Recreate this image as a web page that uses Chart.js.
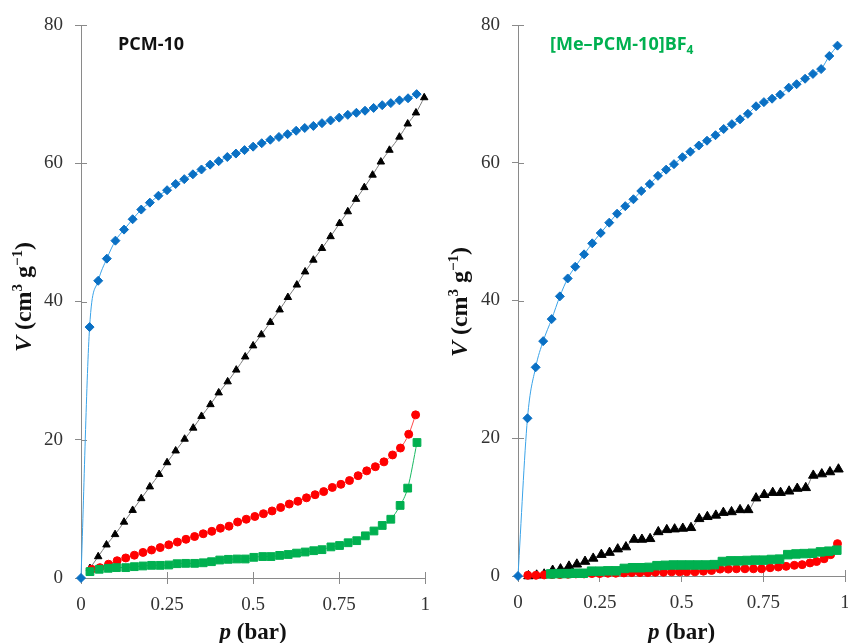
<!DOCTYPE html>
<html>
<head>
<meta charset="utf-8">
<script src="https://cdn.jsdelivr.net/npm/chart.js@4"></script>
<style>
html, body { margin: 0; padding: 0; background: #fff; overflow: hidden; width: 848px; height: 643px; }
#left { position: absolute; left: 0; top: 0; }
#right { position: absolute; left: 440px; top: 0; }
</style>
</head>
<body>
<canvas id="left" width="440" height="643"></canvas>
<canvas id="right" width="420" height="643"></canvas>
<script>
// ---- data: p in bar, V in cm3/g ----
var xTicks = [0, 0.25, 0.5, 0.75, 1];
var yTicks = [0, 20, 40, 60, 80];

// PCM-10 (left)
var pcmBlueP = [0,0.025,0.05,0.075,0.1,0.125,0.15,0.175,0.2,0.225,0.25,0.275,0.3,0.325,0.35,0.375,0.4,0.425,0.45,0.475,
                0.5,0.525,0.55,0.575,0.6,0.625,0.65,0.675,0.7,0.725,0.75,0.775,0.8,0.825,0.85,0.875,0.9,0.925,0.95,0.975];
var pcmBlueV = [0,36.3,43.0,46.2,48.8,50.4,51.9,53.3,54.3,55.3,56.1,57.0,57.7,58.4,59.1,59.8,60.3,60.9,61.4,61.9,
                62.4,62.9,63.4,63.8,64.2,64.7,65.1,65.4,65.8,66.2,66.6,67.0,67.3,67.6,68.0,68.4,68.7,69.1,69.4,70.0];
var pcmBlackP = [0.026,0.05,0.074,0.099,0.125,0.15,0.175,0.2,0.227,0.25,0.275,0.301,0.326,0.35,0.376,0.4,0.426,0.451,0.477,0.5,
                 0.524,0.55,0.577,0.601,0.627,0.651,0.675,0.7,0.725,0.751,0.775,0.799,0.823,0.847,0.871,0.896,0.925,0.949,0.973,0.997];
var pcmBlackV = [1.4,3.1,4.8,6.3,8.1,9.8,11.5,13.2,15.0,16.7,18.4,20.1,21.7,23.4,25.1,26.8,28.4,30.1,32.0,33.6,
                 35.2,37.0,38.8,40.6,42.4,44.3,46.0,47.7,49.4,51.3,53.0,54.8,56.5,58.3,60.2,61.9,63.8,65.7,67.3,69.5];
var pcmRedP = [0.031,0.055,0.08,0.105,0.13,0.155,0.18,0.205,0.23,0.255,0.28,0.305,0.33,0.355,0.38,0.405,0.43,0.455,0.48,0.505,
               0.53,0.555,0.58,0.605,0.63,0.655,0.68,0.705,0.73,0.755,0.78,0.805,0.83,0.855,0.88,0.905,0.928,0.952,0.972];
var pcmRedV = [1.26,1.5,2.0,2.5,2.9,3.3,3.7,4.05,4.4,4.8,5.2,5.6,6.0,6.4,6.75,7.2,7.5,8.1,8.5,8.9,
               9.3,9.7,10.2,10.7,11.1,11.6,12.05,12.5,13.1,13.55,14.1,14.8,15.5,16.1,16.8,17.8,18.8,20.8,23.6];
var pcmGreenP = [0.026,0.053,0.079,0.103,0.13,0.155,0.18,0.205,0.23,0.255,0.279,0.304,0.33,0.355,0.379,0.403,0.428,0.453,0.477,0.502,
                 0.528,0.552,0.577,0.602,0.626,0.651,0.676,0.70,0.726,0.751,0.776,0.801,0.826,0.851,0.875,0.90,0.927,0.949,0.976];
var pcmGreenV = [0.92,1.26,1.4,1.5,1.5,1.64,1.74,1.83,1.83,1.88,2.07,2.12,2.12,2.2,2.36,2.6,2.7,2.75,2.75,2.99,
                 3.1,3.1,3.27,3.4,3.6,3.76,3.95,4.1,4.5,4.7,5.1,5.4,6.1,6.8,7.6,8.5,10.5,13.0,19.6];

// [Me-PCM-10]BF4 (right)
var mePcmBlueP = [0,0.029,0.054,0.077,0.103,0.128,0.152,0.175,0.202,0.227,0.253,0.279,0.303,0.328,0.353,0.377,0.403,0.428,0.453,0.477,
                  0.503,0.527,0.553,0.578,0.604,0.629,0.654,0.679,0.703,0.728,0.752,0.777,0.802,0.828,0.852,0.878,0.902,0.927,0.952,0.977];
var mePcmBlueV = [0,22.9,30.3,34.1,37.3,40.6,43.2,44.9,46.7,48.3,49.8,51.3,52.6,53.7,54.7,55.9,56.9,58.1,59.0,59.8,
                  60.8,61.6,62.5,63.2,64.0,64.9,65.6,66.3,67.1,68.2,68.8,69.3,69.9,70.9,71.4,72.2,72.9,73.6,75.5,77.0];
var mePcmBlackP = [0.032,0.057,0.08,0.106,0.13,0.156,0.18,0.205,0.23,0.255,0.28,0.305,0.33,0.355,0.379,0.404,0.429,0.455,0.479,0.504,
                   0.529,0.554,0.579,0.605,0.628,0.653,0.679,0.704,0.728,0.753,0.779,0.803,0.829,0.854,0.88,0.903,0.929,0.954,0.98];
var mePcmBlackV = [0,0.1,0.25,0.8,1.0,1.4,1.7,2.1,2.55,3.1,3.4,3.9,4.2,5.3,5.3,5.4,6.4,6.7,6.8,6.9,
                   7.0,8.3,8.6,8.8,9.2,9.3,9.6,9.6,11.3,11.8,12.1,12.1,12.3,12.7,12.8,14.6,14.8,15.1,15.5];
var mePcmRedP = [0.03,0.055,0.08,0.104,0.128,0.153,0.177,0.202,0.226,0.25,0.275,0.299,0.324,0.348,0.373,0.397,0.42,0.445,0.47,0.494,
                 0.516,0.541,0.567,0.592,0.618,0.643,0.668,0.694,0.72,0.745,0.771,0.796,0.82,0.845,0.869,0.893,0.913,0.936,0.956,0.977];
var mePcmRedV = [0.1,0.1,0.15,0.2,0.2,0.25,0.3,0.3,0.35,0.35,0.4,0.4,0.45,0.5,0.5,0.5,0.55,0.55,0.6,0.6,
                 0.6,0.6,0.7,0.8,1.0,1.0,1.05,1.05,1.05,1.05,1.2,1.3,1.4,1.55,1.65,1.9,2.1,2.5,3.1,4.7];
var mePcmGreenP = [0.1,0.125,0.15,0.175,0.2,0.225,0.25,0.275,0.3,0.325,0.35,0.375,0.4,0.425,0.45,0.475,0.5,0.525,
                   0.55,0.575,0.6,0.625,0.65,0.675,0.7,0.725,0.75,0.775,0.8,0.825,0.85,0.875,0.9,0.925,0.95,0.975];
var mePcmGreenV = [0.3,0.35,0.35,0.4,0.4,0.7,0.7,0.75,0.75,1.1,1.2,1.2,1.25,1.5,1.55,1.6,1.6,1.6,
                   1.6,1.6,1.65,2.1,2.2,2.2,2.25,2.3,2.3,2.4,2.45,3.1,3.2,3.25,3.3,3.5,3.6,3.75];

// ---- styles ----
var axisGray = '#8a8a8a';
var serif = '"Liberation Serif", "DejaVu Serif", serif';
var tickFont = { family: serif, size: 19 };

function pts(xs, ys) {
    return xs.map(function (x, i) { return { x: x, y: ys[i] }; });
}

function series(xs, ys, shape, fill, line, radius, order) {
    return {
        data: pts(xs, ys),
        showLine: true,
        pointStyle: shape,
        pointRadius: radius,
        pointBackgroundColor: fill,
        pointBorderColor: fill,
        pointBorderWidth: 1,
        borderColor: line,
        borderWidth: 1,
        cubicInterpolationMode: 'monotone',
        clip: false,
        order: order
    };
}

// rich text, one run after another (italic V, superscripts...)
function drawRuns(ctx, runs, cx, cy, rotate, center) {
    var w = 0;
    runs.forEach(function (r) { ctx.font = r.font; r.w = ctx.measureText(r.text).width; w += r.w; });
    ctx.save();
    ctx.translate(cx, cy);
    if (rotate) ctx.rotate(-Math.PI / 2);
    ctx.textAlign = 'left';
    ctx.textBaseline = 'alphabetic';
    var x = center ? -w / 2 : 0;
    runs.forEach(function (r) {
        ctx.font = r.font;
        ctx.fillStyle = r.color || '#111';
        ctx.fillText(r.text, x, r.dy || 0);
        x += r.w;
    });
    ctx.restore();
}

var yTitle = [
    { text: 'V', font: 'italic bold 24px ' + serif },
    { text: ' (cm', font: 'bold 24px ' + serif },
    { text: '3', font: 'bold 15px ' + serif, dy: -9 },
    { text: ' g', font: 'bold 24px ' + serif },
    { text: '\u22121', font: 'bold 15px ' + serif, dy: -9 },
    { text: ')', font: 'bold 24px ' + serif }
];
var xTitle = [
    { text: 'p', font: 'italic bold 23px ' + serif },
    { text: ' (bar)', font: 'bold 23px ' + serif }
];

// axis titles, panel names and the ticks that cross the axis lines
var decorations = {
    id: 'decorations',
    beforeDatasetsDraw: function (chart) {
        var ctx = chart.ctx, a = chart.chartArea;
        ctx.save();
        ctx.strokeStyle = axisGray;
        ctx.lineWidth = 1;
        ctx.beginPath();
        yTicks.forEach(function (v) {
            var y = Math.round(chart.scales.y.getPixelForValue(v)) + 0.5;
            ctx.moveTo(a.left, y); ctx.lineTo(a.left + 6, y);
        });
        xTicks.forEach(function (v) {
            var x = Math.round(chart.scales.x.getPixelForValue(v)) + 0.5;
            ctx.moveTo(x, a.bottom); ctx.lineTo(x, a.bottom - 6);
        });
        ctx.stroke();
        ctx.restore();
    },
    afterDraw: function (chart) {
        var ctx = chart.ctx, a = chart.chartArea, o = chart.options.plugins.decorations;
        drawRuns(ctx, yTitle, o.yTitleX, o.yTitleY, true, true);
        drawRuns(ctx, xTitle, (a.left + a.right) / 2, o.xTitleY, false, true);
        drawRuns(ctx, o.panel, o.panelX, o.panelY, false, false);
    }
};

function buildOptions(o) {
    return {
        responsive: false,
        animation: false,
        layout: { padding: { left: 0, top: o.top, right: o.right, bottom: 0 } },
        plugins: { legend: { display: false }, tooltip: { enabled: false }, decorations: o.deco },
        scales: {
            x: {
                type: 'linear', min: 0, max: 1,
                afterBuildTicks: function (s) { s.ticks = xTicks.map(function (v) { return { value: v }; }); },
                ticks: { color: '#333', font: tickFont, padding: 10, maxRotation: 0,
                         callback: function (v) { return String(v); } },
                grid: { drawOnChartArea: false, color: axisGray, tickLength: 6 },
                border: { color: axisGray, width: 1 },
                afterFit: function (s) { s.height = o.xHeight; }
            },
            y: {
                type: 'linear', min: 0, max: 80,
                afterBuildTicks: function (s) { s.ticks = yTicks.map(function (v) { return { value: v }; }); },
                ticks: { color: '#333', font: tickFont, padding: 12,
                         callback: function (v) { return String(v); } },
                grid: { drawOnChartArea: false, color: axisGray, tickLength: 6 },
                border: { color: axisGray, width: 1 },
                afterFit: function (s) { s.width = o.yWidth; }
            }
        }
    };
}

var blueFill = '#0a70c4', blueLine = '#3aa3e8';
var redFill = '#ff0000', redLine = '#ff4a4a';
var greenFill = '#00b050', greenLine = '#19b862';
var blackFill = '#000000', blackLine = '#7a7a7a';

new Chart(document.getElementById('left'), {
    type: 'scatter',
    data: {
        datasets: [
            series(pcmBlueP, pcmBlueV, 'rectRot', blueFill, blueLine, 4.5, 3),
            series(pcmBlackP, pcmBlackV, 'triangle', blackFill, blackLine, 4.3, 2),
            series(pcmRedP, pcmRedV, 'circle', redFill, redLine, 4, 1),
            series(pcmGreenP, pcmGreenV, 'rect', greenFill, greenLine, 5.5, 0)
        ]
    },
    options: buildOptions({
        top: 25, right: 14, xHeight: 65, yWidth: 81,
        deco: {
            yTitleX: 31, yTitleY: 297, xTitleY: 639,
            panelX: 118, panelY: 50,
            panel: [{ text: 'PCM-10', font: 'bold 18px "Open Sans", sans-serif', color: '#111' }]
        }
    }),
    plugins: [decorations]
});

new Chart(document.getElementById('right'), {
    type: 'scatter',
    data: {
        datasets: [
            series(mePcmBlueP, mePcmBlueV, 'rectRot', blueFill, blueLine, 4.5, 3),
            series(mePcmBlackP, mePcmBlackV, 'triangle', blackFill, blackLine, 5.5, 2),
            series(mePcmRedP, mePcmRedV, 'circle', redFill, redLine, 4, 1),
            series(mePcmGreenP, mePcmGreenV, 'rect', greenFill, greenLine, 6, 0)
        ]
    },
    options: buildOptions({
        top: 25, right: 15, xHeight: 67, yWidth: 78,
        deco: {
            yTitleX: 27, yTitleY: 302, xTitleY: 639,
            panelX: 110, panelY: 50,
            panel: [
                { text: '[Me\u2013PCM-10]BF', font: 'bold 18px "Open Sans", sans-serif', color: '#00b050' },
                { text: '4', font: 'bold 12px "Open Sans", sans-serif', color: '#00b050', dy: 4 }
            ]
        }
    }),
    plugins: [decorations]
});
</script>
</body>
</html>
